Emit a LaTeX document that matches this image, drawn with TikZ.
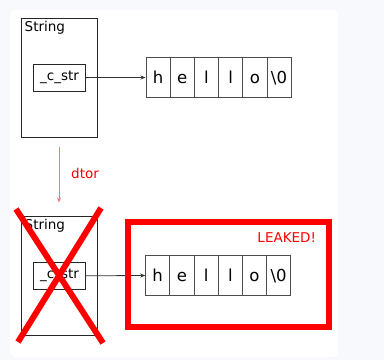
\documentclass[tikz,border=0pt]{standalone}
\usepackage{fontspec}
\setmainfont{DejaVu Sans}
\usetikzlibrary{arrows.meta}
\definecolor{pagebg}{rgb}{0.972,0.976,0.988}
\definecolor{dtorred}{rgb}{1,0.45,0.45}
\begin{document}
\begin{tikzpicture}[x=1pt,y=-1pt,
  small/.style={font=\fontsize{13.5}{15}\selectfont},
  strbox/.style={draw=black!85, line width=0.9pt, minimum width=76pt, minimum height=119pt, inner sep=0pt},
  cbox/.style={draw=black!85, line width=0.9pt, minimum width=52pt, minimum height=27pt, inner sep=0pt, small},
  cell/.style={draw=black!70, line width=0.8pt, minimum width=24.2pt, minimum height=40pt, inner sep=0pt,
    font=\fontsize{16.5}{18}\selectfont, text height=12.5pt, text depth=0pt},
  ptr/.style={draw=black!80, line width=0.8pt, -{Stealth[length=5pt,width=4pt]}},
  cross/.style={draw=red, line width=6pt},
  leak/.style={draw=red, line width=5.8pt}]
\useasboundingbox (0,0) rectangle (384,360);
\fill[pagebg] (0,0) rectangle (384,360);
\fill[white, rounded corners=6pt] (10,10) rectangle (338,357);

% top
\node[strbox] (s1) at (59.5,78) {};
\node[small, anchor=base west, inner sep=0pt] (s1lab) at (24.5,31.5) {String};
\node[cbox] (c1) at (59.5,77.6) {\_c\_str};
\foreach \ch [count=\i] in {h,e,l,l,o,\textbackslash 0}
  \node[cell] (t\i) at ({145.9+24.2*(\i-0.5)},77.5) {\ch};
\draw[ptr] (c1.east) -- (t1.west);

% dtor
\coordinate (dA) at (59,147);
\coordinate (dB) at (59,202.5);
\draw[draw=dtorred, line width=0.9pt, -{Stealth[length=5pt,width=4pt]}] (dA) -- (dB);
\node[small, text=red, anchor=base west, inner sep=0pt] (dtor) at (71,178.3) {dtor};

% bottom
\node[strbox] (s2) at (59.2,275.5) {};
\node[small, anchor=base west, inner sep=0pt] (s2lab) at (24.5,229.5) {String};
\node[cbox] (c2) at (59.5,275.8) {\_c\_str};
\foreach \ch [count=\i] in {h,e,l,l,o,\textbackslash 0}
  \node[cell] (b\i) at ({145.6+24.2*(\i-0.5)},275.5) {\ch};
\draw[ptr] (c2.east) -- (b1.west);

% leaked box
\node[leak, minimum width=201pt, minimum height=105pt, inner sep=0pt] (lk) at (228.5,274.5) {};
\node[small, text=red, anchor=base west, inner sep=0pt] (lklab) at (257.3,242.3) {LEAKED!};

% cross
\coordinate (x1) at (16,209);
\coordinate (x2) at (103,343);
\coordinate (x3) at (101,208);
\coordinate (x4) at (18,342);
\draw[cross] (x1) -- (x2);
\draw[cross] (x3) -- (x4);
\end{tikzpicture}
\end{document}
